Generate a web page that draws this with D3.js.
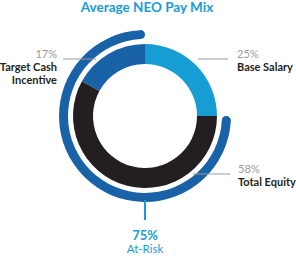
<!DOCTYPE html>
<html>
<head>
<meta charset="utf-8">
<title>Average NEO Pay Mix</title>
<style>
  body { margin: 0; background: #fff; }
  text { font-family: Lato, "Open Sans", sans-serif; }
</style>
</head>
<body>
<script src="https://d3js.org/d3.v7.min.js"></script>
<script>
// chart data
const categories = ["Base Salary", "Total Equity", "Target Cash Incentive"];
const values = [25, 58, 17];
const colors = ["#159dd4", "#231f20", "#1a62a8"];
const atRiskValue = 75;
const atRiskLabel = "At-Risk";

const width = 296, height = 256;
const cx = 145, cy = 116;

var svg = d3.select("body").append("svg")
    .attr("width", width)
    .attr("height", height);

svg.append("text")
    .attr("x", 147)
    .attr("y", 12)
    .attr("text-anchor", "middle")
    .style("font-size", "13.5px")
    .style("font-weight", "bold")
    .attr("fill", "#1a9bd7")
    .text("Average NEO Pay Mix");

var g = svg.append("g").attr("transform", "translate(" + cx + "," + cy + ")");

var pie = d3.pie().sort(null).value(function(d) { return d; });
var arcs = pie(values);

var arc = d3.arc().innerRadius(52).outerRadius(72);

g.selectAll("path.slice")
    .data(arcs)
    .enter()
    .append("path")
    .attr("class", "slice")
    .attr("d", arc)
    .attr("fill", function(d, i) { return colors[i]; });

// outer at-risk arc (everything except base salary)
var total = d3.sum(values);
var outer = d3.arc()
    .innerRadius(77)
    .outerRadius(86)
    .cornerRadius(4.5)
    .startAngle(2 * Math.PI * (1 - atRiskValue / total))
    .endAngle(2 * Math.PI);

g.append("path")
    .attr("d", outer())
    .attr("fill", "#1a62a8");

g.append("line")
    .attr("x1", 0).attr("x2", 0)
    .attr("y1", 84).attr("y2", 104)
    .attr("stroke", "#1a9bd7")
    .attr("stroke-width", 2);

g.append("text")
    .attr("x", 0).attr("y", 124)
    .attr("text-anchor", "middle")
    .style("font-size", "13px")
    .style("font-weight", "bold")
    .attr("fill", "#1a9bd7")
    .text(atRiskValue + "%");

g.append("text")
    .attr("x", 0).attr("y", 137)
    .attr("text-anchor", "middle")
    .style("font-size", "11.5px")
    .attr("fill", "#1a9bd7")
    .text(atRiskLabel);

// label placement for each slice
var labelPos = [
    { lx1: 53, lx2: 83, ly: -57, tx: 92, anchor: "start", lines: ["Base Salary"] },
    { lx1: 48, lx2: 85, ly: 58, tx: 93, anchor: "start", lines: ["Total Equity"] },
    { lx1: -82, lx2: -49, ly: -57, tx: -88, anchor: "end", lines: ["Target Cash", "Incentive"] }
];

labelPos.forEach(function(p, i) {
    g.append("line")
        .attr("x1", p.lx1).attr("x2", p.lx2)
        .attr("y1", p.ly).attr("y2", p.ly)
        .attr("stroke", "#9a9a9a")
        .attr("stroke-width", 1);
    g.append("text")
        .attr("x", p.tx).attr("y", p.ly - 1)
        .attr("text-anchor", p.anchor)
        .style("font-size", "11px")
        .attr("fill", "#9a9a9a")
        .text(values[i] + "%");
    p.lines.forEach(function(t, j) {
        g.append("text")
            .attr("x", p.tx).attr("y", p.ly + 12 + j * 12.5)
            .attr("text-anchor", p.anchor)
            .style("font-size", "11px")
            .style("font-weight", "bold")
            .attr("fill", "#231f20")
            .text(t);
    });
});
</script>
</body>
</html>
